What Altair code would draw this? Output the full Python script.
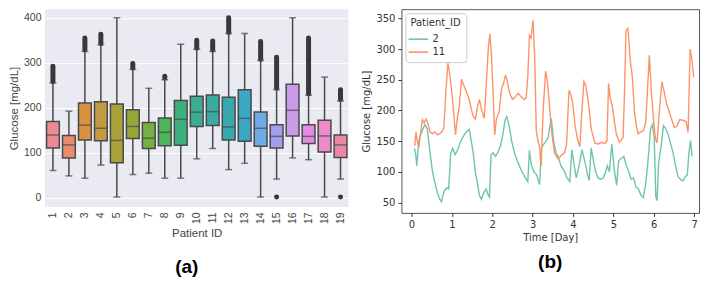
import altair as alt
import pandas as pd

# ---------------- Panel (a): box plot summary per patient ----------------
patients = [str(i) for i in range(1, 20)]
q1 = [110, 88, 128, 126, 77, 131, 109, 115, 116, 158, 160, 128, 125, 114, 110, 137, 120, 101, 89]
med = [139, 117, 161, 154, 127, 158, 132, 145, 174, 190, 191, 157, 176, 154, 136, 194, 136, 137, 117]
q3 = [169, 138, 210, 213, 208, 195, 167, 177, 216, 225, 228, 223, 240, 190, 162, 252, 162, 172, 139]
wlo = [60, 48, 43, 72, 1, 51, 54, 43, 43, 86, 109, 62, 76, 1, 41, 88, 84, 1, 41]
whi = [255, 192, 325, 340, 400, 285, 243, 262, 341, 330, 325, 365, 365, 305, 240, 400, 228, 268, 215]
# upper outlier clouds (None = no outliers)
out_lo = [258, None, 328, 342, None, 288, None, 266, None, 332, 328, 367, None, 307, 243, None, 230, None, 218]
out_hi = [292, None, 355, 363, None, 298, None, 270, None, 350, 348, 400, None, 347, 312, None, 355, None, 240]
# low outliers
low_out_patient = ["15", "19"]
low_out_val = [1, 1]

box_colors = ["#EB8A92", "#EA8C6C", "#D9913E", "#C39A3F", "#A9A13A", "#96A73A", "#76B044",
              "#4EB35B", "#3EB07E", "#3CAC94", "#3BAAA2", "#39A9B0", "#3BA7C3", "#6EAAE6",
              "#A49DF0", "#C99BE8", "#E58AE6", "#EB8BC8", "#EC88A6"]

box_df = pd.DataFrame({"patient": patients, "q1": q1, "med": med, "q3": q3,
                       "wlo": wlo, "whi": whi, "olo": out_lo, "ohi": out_hi})
out_df = box_df.dropna(subset=["olo"])
low_df = pd.DataFrame({"patient": low_out_patient, "v": low_out_val})

GRAY = "#4a4a4a"
AFONT = "Liberation Sans"
ydom_a = [-21, 419]

xa = alt.X("patient:N", sort=patients,
           scale=alt.Scale(domain=patients, paddingInner=0.2, paddingOuter=0.1),
           axis=alt.Axis(title="Patient ID", labelAngle=-90, labelBaseline="middle",
                         labelAlign="right", labelFontSize=10.5, labelColor="#444",
                         labelFont=AFONT, titleFont=AFONT, titleFontSize=11.5,
                         titleFontWeight="normal", titleColor="#444", domain=False,
                         ticks=False, grid=False, labelPadding=5, titlePadding=4))

ya_axis = alt.Axis(title="Glucose [mg/dL]", values=list(range(0, 401, 50)),
                   labelFontSize=10.5, labelColor="#444", labelFont=AFONT,
                   titleFont=AFONT, titleFontSize=11.5, titleFontWeight="normal",
                   titleColor="#444", domain=False, ticks=False, grid=True,
                   gridColor="white", gridWidth=1, labelPadding=4, titlePadding=4)

base = alt.Chart(box_df)
whisk = base.mark_rule(color=GRAY, strokeWidth=1.5).encode(
    x=xa,
    y=alt.Y("wlo:Q", scale=alt.Scale(domain=ydom_a, nice=False, zero=False), axis=ya_axis),
    y2="whi:Q")
outs = alt.Chart(out_df).mark_rule(color="#383838", strokeWidth=5, strokeCap="round").encode(
    x=alt.X("patient:N", sort=patients), y="olo:Q", y2="ohi:Q")
lows = alt.Chart(low_df).mark_rule(color="#383838", strokeWidth=5, strokeCap="round").encode(
    x=alt.X("patient:N", sort=patients), y="v:Q", y2="v:Q")
caps_lo = base.mark_tick(color=GRAY, thickness=1.5, size=7).encode(
    x=alt.X("patient:N", sort=patients), y="wlo:Q")
caps_hi = base.mark_tick(color=GRAY, thickness=1.5, size=7).encode(
    x=alt.X("patient:N", sort=patients), y="whi:Q")
boxes = base.mark_bar(stroke=GRAY, strokeWidth=1.5).encode(
    x=alt.X("patient:N", sort=patients), y="q1:Q", y2="q3:Q",
    color=alt.Color("patient:N", scale=alt.Scale(domain=patients, range=box_colors), legend=None))
meds = base.mark_tick(color=GRAY, thickness=1.5, size=13).encode(
    x=alt.X("patient:N", sort=patients), y="med:Q")

panel_a = alt.layer(whisk, outs, lows, caps_lo, caps_hi, boxes, meds).properties(
    width=304, height=198,
    view=alt.ViewBackground(fill="#EAEAF2", stroke=None),
    title=alt.TitleParams("(a)", orient="bottom", anchor="middle", frame="group",
                          fontSize=19, fontWeight="bold", font=AFONT, color="black",
                          offset=19, dx=-10))

# ---------------- Panel (b): glucose time series ----------------
days_2 = [0.07, 0.10, 0.13, 0.18, 0.25, 0.33, 0.39, 0.46, 0.52, 0.59,
          0.65, 0.70, 0.74, 0.78, 0.82, 0.88, 0.92, 0.97, 1.02, 1.08,
          1.14, 1.20, 1.26, 1.32, 1.38, 1.43, 1.48, 1.53, 1.58, 1.63,
          1.68, 1.73, 1.79, 1.85, 1.90, 1.93, 1.97, 2.02, 2.08, 2.14,
          2.20, 2.26, 2.32, 2.36, 2.42, 2.48, 2.55, 2.62, 2.70, 2.78,
          2.84, 2.88, 2.92, 2.97, 3.03, 3.10, 3.17, 3.22, 3.30, 3.38,
          3.46, 3.52, 3.58, 3.63, 3.70, 3.79, 3.85, 3.92, 3.97, 4.03,
          4.08, 4.15, 4.22, 4.30, 4.36, 4.40, 4.45, 4.50, 4.56, 4.62,
          4.68, 4.75, 4.81, 4.85, 4.90, 4.96, 5.02, 5.08, 5.13, 5.20,
          5.26, 5.32, 5.38, 5.44, 5.50, 5.56, 5.62, 5.68, 5.74, 5.80,
          5.86, 5.92, 5.97, 6.01, 6.05, 6.08, 6.12, 6.18, 6.24, 6.30,
          6.36, 6.42, 6.48, 6.54, 6.60, 6.66, 6.72, 6.78, 6.83, 6.87,
          6.91, 6.95]
gluc_2 = [138, 130, 110, 150, 165, 177, 170, 130, 100, 79,
          64, 55, 51, 62, 70, 74, 72, 130, 138, 128,
          135, 147, 155, 162, 166, 169, 150, 130, 100, 82,
          62, 55, 66, 72, 62, 59, 128, 131, 125, 132,
          141, 160, 185, 190, 175, 150, 131, 118, 105, 95,
          88, 84, 135, 110, 100, 95, 79, 140, 147, 155,
          187, 150, 131, 125, 110, 100, 90, 84, 136, 110,
          90, 110, 136, 115, 95, 86, 139, 120, 100, 90,
          88, 90, 100, 110, 100, 145, 104, 78, 118, 122,
          125, 110, 100, 88, 90, 75, 72, 62, 58, 80,
          120, 170, 177, 156, 60, 53, 115, 141, 175, 170,
          160, 145, 130, 110, 92, 88, 85, 92, 95, 130,
          151, 125]

days_11 = [0.08, 0.11, 0.14, 0.18, 0.22, 0.27, 0.31, 0.36, 0.41, 0.46,
           0.52, 0.58, 0.64, 0.70, 0.76, 0.80, 0.85, 0.90, 0.94, 0.99,
           1.04, 1.09, 1.13, 1.18, 1.24, 1.30, 1.36, 1.42, 1.47, 1.53,
           1.58, 1.63, 1.68, 1.74, 1.80, 1.85, 1.90, 1.94, 1.98, 2.02,
           2.06, 2.10, 2.17, 2.23, 2.28, 2.33, 2.38, 2.43, 2.50, 2.57,
           2.64, 2.72, 2.79, 2.84, 2.88, 2.92, 2.96, 3.01, 3.05, 3.09,
           3.13, 3.17, 3.21, 3.26, 3.32, 3.37, 3.41, 3.47, 3.54, 3.63,
           3.70, 3.79, 3.84, 3.90, 3.95, 3.99, 4.05, 4.12, 4.17, 4.22,
           4.27, 4.32, 4.38, 4.45, 4.54, 4.62, 4.70, 4.78, 4.84, 4.88,
           4.92, 4.97, 5.03, 5.07, 5.15, 5.24, 5.28, 5.31, 5.36, 5.42,
           5.47, 5.52, 5.57, 5.61, 5.68, 5.74, 5.80, 5.85, 5.89, 5.94,
           6.00, 6.04, 6.08, 6.14, 6.20, 6.26, 6.32, 6.36, 6.42, 6.51,
           6.58, 6.64, 6.72, 6.80, 6.85, 6.90, 6.94, 6.99]
gluc_11 = [142, 165, 150, 140, 162, 185, 180, 186, 178, 165,
           162, 165, 160, 162, 166, 172, 230, 277, 262, 235,
           200, 160, 185, 205, 251, 240, 230, 220, 205, 190,
           186, 205, 218, 200, 187, 240, 300, 325, 290, 230,
           160, 185, 198, 235, 245, 258, 245, 228, 218, 222,
           228, 222, 218, 220, 255, 322, 318, 347, 290, 167,
           151, 140, 110, 200, 264, 245, 213, 165, 131, 121,
           126, 131, 145, 233, 225, 213, 175, 150, 141, 200,
           247, 240, 213, 170, 147, 145, 148, 146, 150, 244,
           220, 208, 180, 162, 148, 156, 240, 330, 334, 280,
           254, 198, 175, 162, 165, 167, 180, 240, 290, 230,
           180, 155, 147, 200, 247, 230, 210, 203, 190, 172,
           175, 185, 184, 182, 164, 300, 285, 254]

ts_df = pd.concat([
    pd.DataFrame({"day": days_2, "glucose": gluc_2, "Patient_ID": "2"}),
    pd.DataFrame({"day": days_11, "glucose": gluc_11, "Patient_ID": "11"}),
])

BFONT = "DejaVu Sans"
panel_b = alt.Chart(ts_df).mark_line(strokeWidth=1.4, opacity=0.95).encode(
    x=alt.X("day:Q", scale=alt.Scale(domain=[-0.25, 7.12], nice=False, zero=False),
            axis=alt.Axis(title="Time [Day]", values=list(range(0, 8)), grid=False,
                          domain=False, tickSize=3.5, tickColor="#333", labelColor="#333",
                          labelFont=BFONT, labelFontSize=10, titleFont=BFONT,
                          titleFontSize=10, titleFontWeight="normal", titleColor="#333",
                          labelPadding=3, titlePadding=3)),
    y=alt.Y("glucose:Q", scale=alt.Scale(domain=[33, 365], nice=False, zero=False),
            axis=alt.Axis(title="Glucose [mg/dL]", values=list(range(50, 351, 50)),
                          grid=False, domain=False, tickSize=3.5, tickColor="#333",
                          labelColor="#333", labelFont=BFONT, labelFontSize=10,
                          titleFont=BFONT, titleFontSize=10, titleFontWeight="normal",
                          titleColor="#333", labelPadding=3, titlePadding=4)),
    color=alt.Color("Patient_ID:N", sort=["2", "11"],
                    scale=alt.Scale(domain=["2", "11"], range=["#66C2A5", "#FC8D62"]),
                    legend=alt.Legend(orient="top-left", title="Patient_ID",
                                      titleFont=BFONT, titleFontSize=10,
                                      titleFontWeight="normal", titleColor="#333",
                                      labelFont=BFONT, labelFontSize=10, labelColor="#333",
                                      symbolType="M-1.4,0L1.4,0", symbolStrokeWidth=1.6,
                                      symbolSize=196, fillColor="white",
                                      strokeColor="#cccccc", cornerRadius=3,
                                      padding=5, offset=4, rowPadding=0,
                                      titlePadding=3, labelOffset=6)),
).properties(
    width=298, height=204,
    view=alt.ViewBackground(fill="white", stroke="#555555", strokeWidth=1),
    title=alt.TitleParams("(b)", orient="bottom", anchor="middle", frame="group",
                          fontSize=19, fontWeight="bold", font=AFONT, color="black",
                          offset=11))

chart = alt.hconcat(panel_a, panel_b, spacing=12).resolve_scale(
    color="independent"
).properties(
    padding=0, background="white"
).configure_view(strokeWidth=1)

chart.save("out.html", embed_options={"renderer": "svg", "actions": False})
